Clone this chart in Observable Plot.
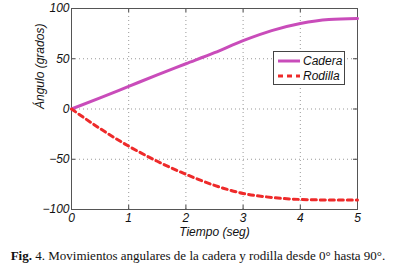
<!DOCTYPE html>
<html><head><meta charset="utf-8">
<script src="https://cdn.jsdelivr.net/npm/d3@7"></script>
<script src="https://cdn.jsdelivr.net/npm/@observablehq/plot@0.6"></script>
<style>
body{margin:0;background:#fff;width:396px;height:270px;overflow:hidden;position:relative}
#chart{position:relative}
#legend{position:absolute;left:273px;top:51px;width:72px;height:34px;border:1px solid #444;background:#fff;font:italic 12px "Liberation Sans",Arial,sans-serif;color:#111;box-sizing:border-box}
#legend .row{position:absolute;left:4px;height:14px;display:flex;align-items:center}
#legend svg{margin-right:3px}
#caption{position:absolute;left:0;top:248px;width:396px;text-align:center;font:13px "Liberation Serif","Times New Roman",serif;color:#111;white-space:nowrap}
</style></head>
<body>
<div id="chart"></div>
<div id="caption"><b>Fig.</b> 4. Movimientos angulares de la cadera y rodilla desde 0° hasta 90°.</div>
<script>
const tiempo  = [0, 0.5, 1, 1.5, 2, 2.5, 3, 3.5, 4, 4.5, 5];
const cadera  = [0, 11, 22.5, 34, 45, 56, 68, 78, 85, 89, 90];
const rodilla = [0, -19.5, -37, -52, -65, -76, -84, -88, -90, -90.5, -90.5];
const xTicks = [0, 1, 2, 3, 4, 5];
const yTicks = [-100, -50, 0, 50, 100];
const series = [
  {name: "Cadera", color: "#c94cba", dash: null},
  {name: "Rodilla", color: "#ee2a2a", dash: "5,4"}
];

const rows = [];
tiempo.forEach((t, i) => {
  rows.push({t, v: cadera[i], s: "Cadera"});
  rows.push({t, v: rodilla[i], s: "Rodilla"});
});

const font = '"Liberation Sans", Arial, sans-serif';
const plot = Plot.plot({
  width: 396, height: 243,
  marginLeft: 71, marginRight: 39, marginTop: 8, marginBottom: 34,
  x: {domain: [0, 5]},
  y: {domain: [-100, 100]},
  style: {fontFamily: font, fontSize: "12px", fontStyle: "italic", color: "#111", background: "#fff"},
  marks: [
    Plot.ruleX(xTicks.slice(1, -1), {stroke: "#999", strokeDasharray: "1,3", strokeWidth: 1}),
    Plot.ruleY(yTicks.slice(1, -1), {stroke: "#999", strokeDasharray: "1,3", strokeWidth: 1}),
    Plot.ruleX(xTicks, {x: d => d, y1: -100, y2: -96, stroke: "#444"}),
    Plot.ruleX(xTicks, {x: d => d, y1: 96, y2: 100, stroke: "#444"}),
    Plot.ruleY(yTicks, {y: d => d, x1: 0, x2: 0.07, stroke: "#444"}),
    Plot.ruleY(yTicks, {y: d => d, x1: 4.93, x2: 5, stroke: "#444"}),
    Plot.axisX(xTicks, {tickSize: 0, tickPadding: 4, label: null, fontSize: 12}),
    Plot.axisY(yTicks, {tickSize: 0, tickPadding: 2, label: null, fontSize: 12}),
    Plot.frame({stroke: "#555"}),
    Plot.line(rows.filter(d => d.s === "Cadera"), {x: "t", y: "v", stroke: series[0].color, strokeWidth: 3, curve: "monotone-x"}),
    Plot.line(rows.filter(d => d.s === "Rodilla"), {x: "t", y: "v", stroke: series[1].color, strokeWidth: 3, strokeDasharray: series[1].dash, curve: "monotone-x"}),
    Plot.text(["Tiempo (seg)"], {frameAnchor: "bottom", lineAnchor: "middle", dy: 23, fontSize: 12, fill: "#111"}),
    Plot.text(["Ángulo (grados)"], {frameAnchor: "left", dx: -31, rotate: -90, fontSize: 12, fill: "#111"})
  ]
});
document.getElementById("chart").appendChild(plot);

const leg = document.createElement("div");
leg.id = "legend";
series.forEach((s, i) => {
  const r = document.createElement("div");
  r.className = "row";
  r.style.top = (2 + i * 15) + "px";
  r.innerHTML = `<svg width="22" height="6"><line x1="0" y1="3" x2="22" y2="3" stroke="${s.color}" stroke-width="3" ${s.dash ? `stroke-dasharray="${s.dash}"` : ""}/></svg><span>${s.name}</span>`;
  leg.appendChild(r);
});
document.getElementById("chart").appendChild(leg);
</script>
</body></html>
